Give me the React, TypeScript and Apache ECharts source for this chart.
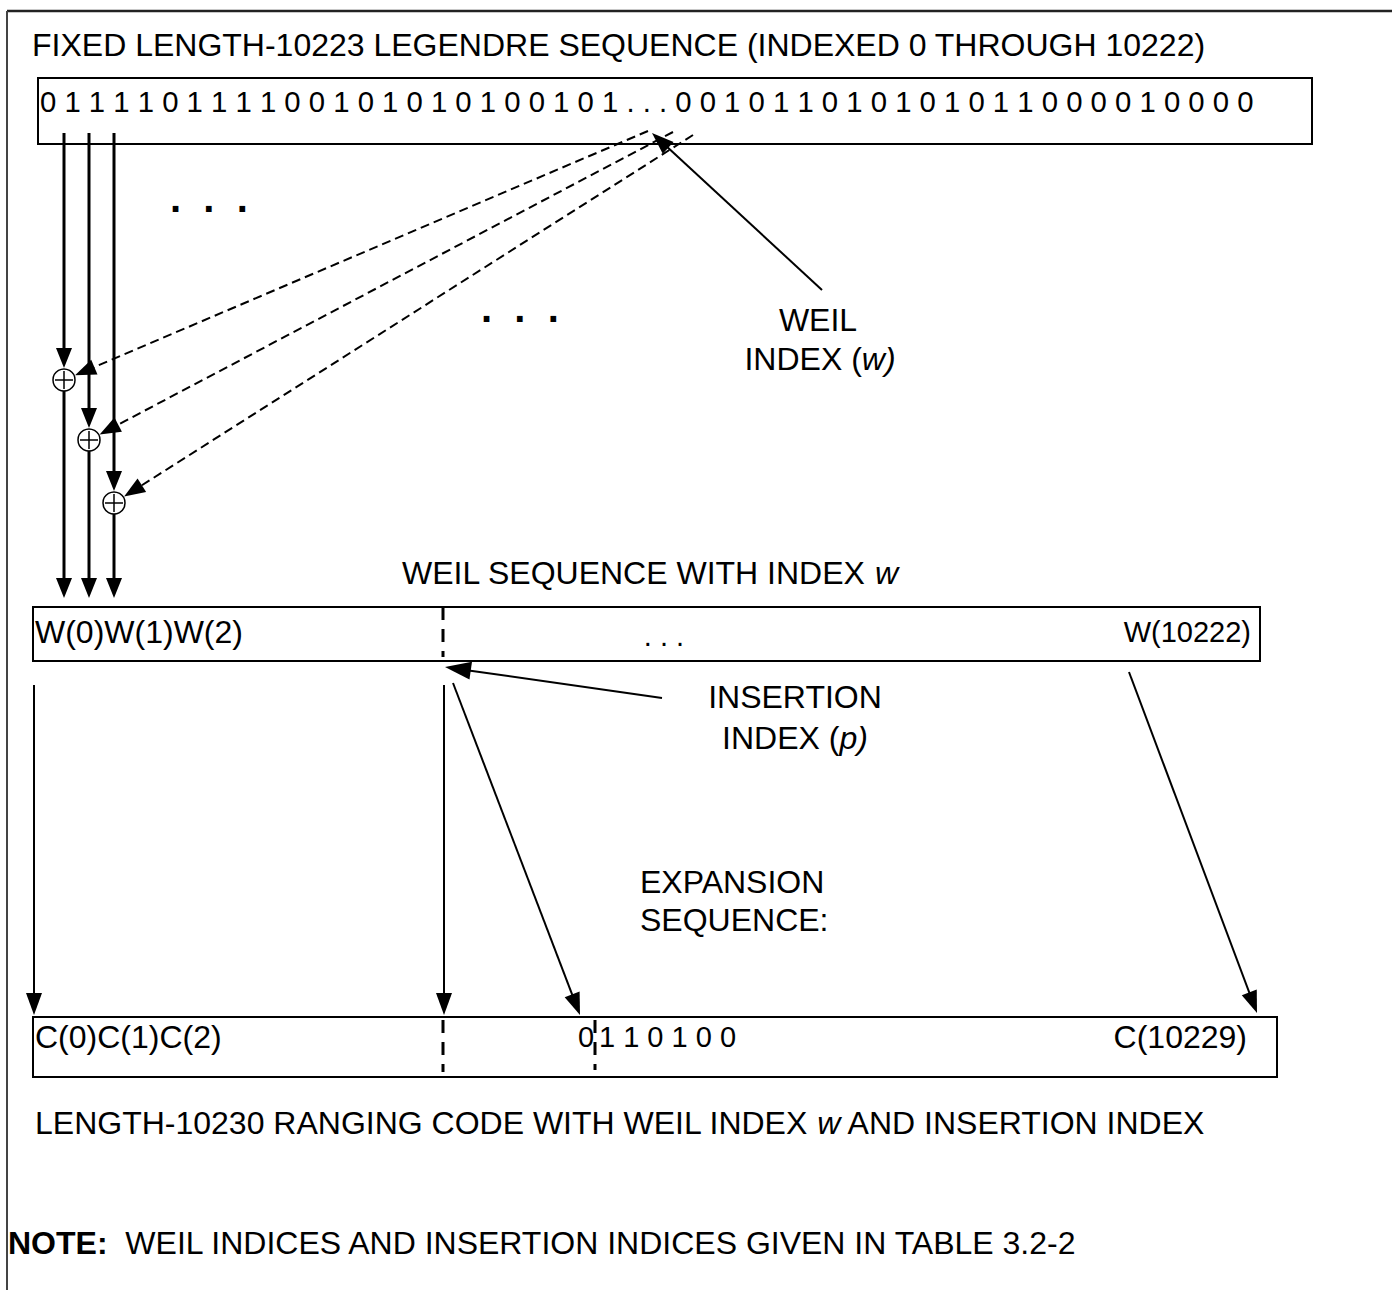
import React, { useEffect, useRef } from "react";
import * as echarts from "echarts";

const TITLE = "FIXED LENGTH-10223 LEGENDRE SEQUENCE (INDEXED 0 THROUGH 10222)";
const LEGENDRE_HEAD = [0, 1, 1, 1, 1, 0, 1, 1, 1, 1, 0, 0, 1, 0, 1, 0, 1, 0, 1, 0, 0, 1, 0, 1];
const LEGENDRE_TAIL = [0, 0, 1, 0, 1, 1, 0, 1, 0, 1, 0, 1, 0, 1, 1, 0, 0, 0, 0, 1, 0, 0, 0, 0];
const EXPANSION_BITS = [0, 1, 1, 0, 1, 0, 0];
const WEIL_LABELS = ["W(0)", "W(1)", "W(2)"];
const WEIL_LAST = "W(10222)";
const CODE_LABELS = ["C(0)", "C(1)", "C(2)"];
const CODE_LAST = "C(10229)";
const WEIL_SEQ_TITLE = "WEIL SEQUENCE WITH INDEX {i|w}";
const CODE_TITLE = "LENGTH-10230 RANGING CODE WITH WEIL INDEX {i|w} AND INSERTION INDEX";
const NOTE_TEXT = "{b|NOTE:}  WEIL INDICES AND INSERTION INDICES GIVEN IN TABLE 3.2-2";

const FF = '"Liberation Sans", Arial, Helvetica, sans-serif';

function txt(x: number, y: number, text: string, opts: any = {}) {
  const size = opts.size ?? 32;
  const align = opts.align ?? "left";
  return {
    type: "text",
    x,
    y,
    silent: true,
    style: {
      text,
      fontSize: size,
      fontFamily: FF,
      fontWeight: opts.weight ?? "normal",
      fill: "#000",
      align,
      textAlign: align,
      verticalAlign: "middle",
      textVerticalAlign: "middle",
      rich: {
        i: { fontSize: size, fontFamily: FF, fontStyle: "italic", fill: "#000" },
        b: { fontSize: size, fontFamily: FF, fontWeight: "bold", fill: "#000" },
      },
    },
  };
}

function line(x1: number, y1: number, x2: number, y2: number, w: number, dash?: number[], color = "#000") {
  return {
    type: "line",
    silent: true,
    shape: { x1, y1, x2, y2 },
    style: { stroke: color, lineWidth: w, lineDash: dash, fill: null },
  };
}

function arrow(
  x1: number,
  y1: number,
  x2: number,
  y2: number,
  w: number,
  len: number,
  half: number,
  dash?: number[]
) {
  const dx = x2 - x1;
  const dy = y2 - y1;
  const d = Math.hypot(dx, dy);
  const ux = dx / d;
  const uy = dy / d;
  const bx = x2 - ux * len;
  const by = y2 - uy * len;
  return [
    line(x1, y1, x2 - ux * (len - 2), y2 - uy * (len - 2), w, dash),
    {
      type: "polygon",
      silent: true,
      shape: {
        points: [
          [x2, y2],
          [bx - uy * half, by + ux * half],
          [bx + uy * half, by - ux * half],
        ],
      },
      style: { fill: "#000", stroke: null },
    },
  ];
}

function rect(x: number, y: number, w: number, h: number) {
  return {
    type: "rect",
    silent: true,
    shape: { x, y, width: w, height: h },
    style: { fill: null, stroke: "#000", lineWidth: 2 },
  };
}

function xorCircle(cx: number, cy: number, r: number) {
  return [
    {
      type: "circle",
      silent: true,
      shape: { cx, cy, r },
      style: { fill: "#fff", stroke: "#000", lineWidth: 1.5 },
    },
    line(cx - r + 2, cy, cx + r - 2, cy, 1.5),
    line(cx, cy - r + 2, cx, cy + r - 2, 1.5),
  ];
}

function buildElements() {
  const els: any[] = [];
  // outer frame
  els.push(line(7, 11, 1392, 11, 2.5, undefined, "#222"));
  els.push(line(7, 11, 7, 1290, 2, undefined, "#444"));

  // title
  els.push(txt(32, 45, TITLE));
  // top box
  els.push(rect(38, 78, 1274, 66));
  const seq = LEGENDRE_HEAD.join(" ") + " . . . " + LEGENDRE_TAIL.join(" ");
  els.push(txt(40, 101, seq, { size: 29.3 }));

  // XOR circles and thick arrows
  const cols = [
    { x: 64, cy: 380 },
    { x: 89, cy: 440 },
    { x: 114, cy: 503 },
  ];
  const r = 11;
  const starts = [
    [648, 131],
    [673, 132],
    [693, 135],
  ];
  cols.forEach((c, i) => {
    els.push(...arrow(c.x, 133, c.x, c.cy - r - 1, 3, 20, 8));
    els.push(...arrow(c.x, c.cy + r, c.x, 598, 3, 20, 8));
    const [sx, sy] = starts[i];
    const dx = c.x - sx;
    const dy = c.cy - sy;
    const d = Math.hypot(dx, dy);
    const tx = c.x - (dx / d) * (r + 1);
    const ty = c.cy - (dy / d) * (r + 1);
    els.push(...arrow(sx, sy, tx, ty, 2, 21, 8, [9, 5]));
  });
  cols.forEach((c) => els.push(...xorCircle(c.x, c.cy, r)));

  // ellipsis dots
  els.push(txt(170, 198, ".  .  .", { size: 40, weight: "bold" }));
  els.push(txt(481, 308, ".  .  .", { size: 40, weight: "bold" }));

  // Weil index label + arrow
  els.push(...arrow(822, 290, 652, 133, 2, 22, 8));
  els.push(txt(818, 320, "WEIL", { align: "center" }));
  els.push(txt(820, 359, "INDEX ({i|w)}", { align: "center" }));

  // Weil sequence
  els.push(txt(402, 573, WEIL_SEQ_TITLE));
  els.push(rect(33, 607, 1227, 54));
  els.push(txt(35, 632, WEIL_LABELS.join("")));
  els.push(txt(664, 636, ". . .", { size: 29, align: "center" }));
  els.push(txt(1251, 632, WEIL_LAST, { size: 29, align: "right" }));
  els.push(line(443, 607, 443, 657, 3, [13, 9]));

  // insertion index
  els.push(...arrow(662, 698, 445, 667, 2, 26, 9));
  els.push(txt(795, 697, "INSERTION", { align: "center" }));
  els.push(txt(795, 738, "INDEX ({i|p)}", { align: "center" }));

  // lower arrows
  els.push(...arrow(34, 685, 34, 1015, 2, 22, 8));
  els.push(...arrow(444, 685, 444, 1015, 2, 22, 8));
  els.push(...arrow(453, 683, 580, 1015, 2, 22, 8));
  els.push(...arrow(1129, 672, 1257, 1013, 2, 22, 8));

  // expansion
  els.push(txt(640, 882, "EXPANSION"));
  els.push(txt(640, 920, "SEQUENCE:"));

  // code box
  els.push(rect(33, 1017, 1244, 60));
  els.push(txt(35, 1037, CODE_LABELS.join("")));
  els.push(txt(578, 1037, String(EXPANSION_BITS[0]), { size: 29 }));
  els.push(txt(599, 1037, EXPANSION_BITS.slice(1).join(" "), { size: 29 }));
  els.push(txt(1247, 1037, CODE_LAST, { align: "right" }));
  els.push(line(443, 1020, 443, 1072, 3, [13, 9]));
  els.push(line(595, 1020, 595, 1070, 3, [13, 9]));

  els.push(txt(35, 1123, CODE_TITLE));
  els.push(txt(8, 1243, NOTE_TEXT));
  return els;
}

export default function App() {
  const ref = useRef<HTMLDivElement>(null);
  useEffect(() => {
    if (!ref.current) return;
    const chart = echarts.init(ref.current, null, { renderer: "svg" });
    chart.setOption({
      animation: false,
      backgroundColor: "#fff",
      graphic: { elements: buildElements() },
    });
    return () => chart.dispose();
  }, []);
  return (
    <div
      ref={ref}
      style={{ position: "absolute", left: 0, top: 0, width: 1392, height: 1290, background: "#fff" }}
    />
  );
}
